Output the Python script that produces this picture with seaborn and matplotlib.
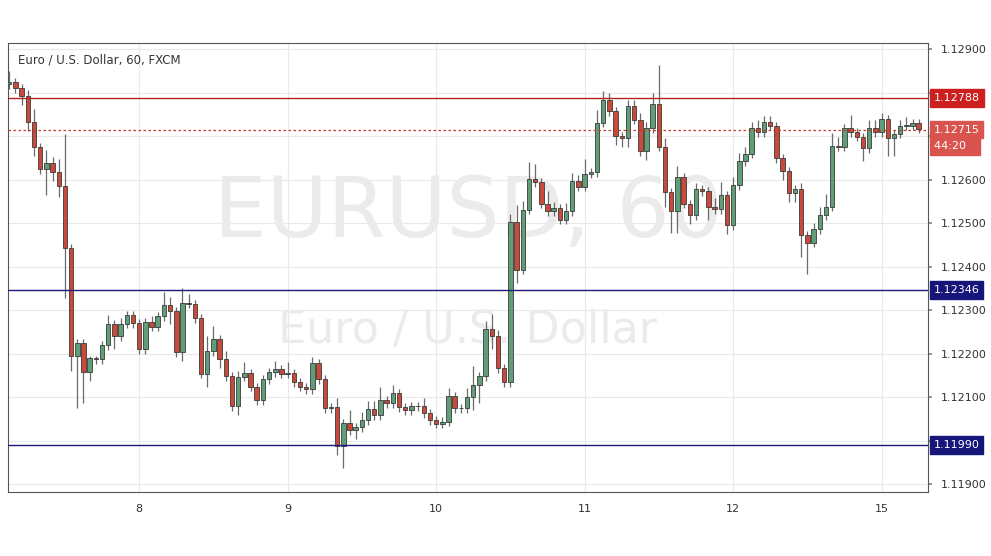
import matplotlib
matplotlib.use("Agg")
import matplotlib.pyplot as plt
import matplotlib.transforms as mtransforms
import seaborn as sns
import numpy as np

first_open = 1.12819
closes = [1.12824,1.12810,1.12792,1.12732,1.12675,1.12624,1.12638,1.12617,1.12585,1.12442,
          1.12194,1.12224,1.12157,1.12189,1.12187,1.12219,1.12268,1.12240,1.12268,1.12288,
          1.12270,1.12210,1.12272,1.12261,1.12286,1.12311,1.12297,1.12203,1.12316,1.12314,
          1.12281,1.12153,1.12205,1.12233,1.12187,1.12148,1.12079,1.12146,1.12155,1.12123,
          1.12093,1.12141,1.12157,1.12164,1.12153,1.12155,1.12134,1.12123,1.12118,1.12178,
          1.12141,1.12074,1.12077,1.11987,1.12040,1.12024,1.12031,1.12047,1.12072,1.12058,
          1.12093,1.12086,1.12109,1.12077,1.12070,1.12079,1.12079,1.12063,1.12047,1.12038,
          1.12044,1.12102,1.12074,1.12074,1.12100,1.12127,1.12148,1.12256,1.12240,1.12166,
          1.12134,1.12502,1.12392,1.12530,1.12601,1.12594,1.12544,1.12527,1.12534,1.12507,
          1.12527,1.12596,1.12583,1.12613,1.12617,1.12730,1.12783,1.12757,1.12700,1.12695,
          1.12769,1.12737,1.12665,1.12718,1.12774,1.12675,1.12571,1.12527,1.12606,1.12544,
          1.12518,1.12578,1.12573,1.12537,1.12532,1.12564,1.12495,1.12587,1.12642,1.12659,
          1.12718,1.12709,1.12732,1.12723,1.12649,1.12619,1.12569,1.12578,1.12472,1.12454,
          1.12486,1.12518,1.12537,1.12677,1.12675,1.12718,1.12709,1.12698,1.12672,1.12718,
          1.12709,1.12739,1.12695,1.12705,1.12723,1.12723,1.12730,1.12716]
# wick lengths beyond the body, in pips
upper_wick = [2.5,1,1,1.5,3,1,3,1.5,3,12,
              1,1,1,0.5,0.5,1,2,1,1.5,1,
              1,1,1,1.5,1,3,2,1,3.5,2,
              1,1,3.5,3,1,2,1,1.5,2.5,1,
              1,1,1,2,1,2.5,1,1,1,1.5,
              1,1,1,2,1,3,1,2,2,2,
              3,1,2,1,1,1,1,2,1,1,
              1,2,1,1,2,4.5,1,2,3.5,1.5,
              1,2,4,2,4,3.5,1,3,1.5,1,
              2,2,1.5,3.5,1,3,2,1.5,1,1,
              1.5,1.5,1.5,1.5,2.5,9,2,1,2.5,1,
              1,1.5,1,1,2,3,1,2,2,1.5,
              1.5,2,1.5,1.5,1,1,1,1,1.5,1,
              1.5,2,3,3,2,1,3,1,1,2,
              2,1.5,1,1,1.5,2,1,1]
lower_wick = [1,1,2,2,2,1,6,2,2.5,11.5,
              3.5,12,7,2,1,1,1,3,1,1,
              1,1,1,1,1,1,3,1,2,1,
              1,1,3,1,2,1,1,2,1,1,
              1,1,1,1,1,1,1,1,1,1,
              1,1,1,2,5,1,2,1,1,1,
              1,1,1,1,1,1,1,1,1,1,
              1,1,1,1,1,3,4,1,3,1,
              1,1,3,1,1,1,1,1,1,1,
              1,1,1,1,1,1,1,1,2,2,
              2,1,1,2,1,1,3.5,5,5,1,
              2,1,1,3,1,1,2,1,1,1,
              1,1,1,1,1,2,2,2,5,7,
              1,1,1,1,1,1,1,1,3,1,
              1,1,4,4,1,1,1,1]

day_ticks = [21, 45, 69, 93, 117, 141]
day_labels = ["8", "9", "10", "11", "12", "15"]
price_ticks = [1.119, 1.120, 1.121, 1.122, 1.123, 1.124, 1.125, 1.126, 1.127, 1.128, 1.129]
hidden_ticks = [1.120, 1.127, 1.128]
resistance = 1.12788
last_price = 1.12715
support1 = 1.12346
support2 = 1.11990

sns.set_theme(style="white")
plt.rcParams['font.family'] = ['DejaVu Sans']

opens = [first_open] + closes[:-1]
n = len(closes)
idx = np.arange(n)
o = np.array(opens); c = np.array(closes)
hi = np.maximum(o, c) + np.array(upper_wick) * 1e-4
lo = np.minimum(o, c) - np.array(lower_wick) * 1e-4
up = c >= o

fig = plt.figure(figsize=(9.91, 5.56), dpi=100)
ax = fig.add_axes([8/991, 1-492/556, 920/991, 449/556])
ax.set_xlim(-0.2, 148.5)
ax.set_ylim(1.11882, 1.12914)

for t in day_ticks:
    ax.axvline(t, color="#e9e9e9", lw=0.8, zorder=0)
for p in price_ticks:
    ax.axhline(p, color="#e9e9e9", lw=0.8, zorder=0)

ax.text(0.5, 0.62, "EURUSD, 60", transform=ax.transAxes, ha="center", va="center",
        fontsize=60, color="#ebebeb", zorder=0)
ax.text(0.5, 0.36, "Euro / U.S. Dollar", transform=ax.transAxes, ha="center", va="center",
        fontsize=32, color="#ebebeb", zorder=0)

green, red = "#5f9e77", "#c94a3a"
ax.vlines(idx, lo, hi, color="#6b6b6b", lw=0.9, zorder=2)
body = np.maximum(np.abs(c - o), 0.000015)
ax.bar(idx, body, bottom=np.minimum(o, c), width=0.72,
       color=np.where(up, green, red), edgecolor="#3a3a3a", linewidth=0.6, zorder=3)

ax.axhline(resistance, color="#b22222", lw=1.0, zorder=4)
ax.axhline(last_price, color="#c0392b", lw=0.9, ls=(0, (2, 2)), zorder=4)
ax.axhline(support1, color="#1a1a7a", lw=1.0, zorder=4)
ax.axhline(support2, color="#1a1a7a", lw=1.0, zorder=4)

ax.set_xticks(day_ticks)
ax.set_xticklabels(day_labels, fontsize=8, color="#333333")
ax.yaxis.tick_right()
ax.set_yticks(price_ticks)
ax.set_yticklabels(["" if any(abs(p - h) < 1e-9 for h in hidden_ticks) else f"{p:.5f}"
                    for p in price_ticks], fontsize=8, color="#333333")
ax.tick_params(axis="both", length=3, color="#888888", pad=6)
for s in ax.spines.values():
    s.set_color("#555555"); s.set_linewidth(0.8)

tr = mtransforms.blended_transform_factory(ax.transAxes, ax.transData)
def tag(y, txt, col, dy=0):
    ax.text(1.006, y + dy, txt, transform=tr, ha="left", va="center", fontsize=8,
            color="white", zorder=6, clip_on=False,
            bbox=dict(boxstyle="square,pad=0.35", fc=col, ec=col))
tag(resistance, "1.12788", "#cc1f1f")
tag(last_price, "1.12715", "#d9534f")
tag(last_price, "44:20   ", "#d9534f", dy=-0.00037)
tag(support1, "1.12346", "#16167a")
tag(support2, "1.11990", "#16167a")

fig.text(18/991, 1-60/556, "Euro / U.S. Dollar, 60, FXCM", fontsize=8.5, color="#333333",
         va="center")
fig.savefig("out.png", dpi=100, facecolor="white")
